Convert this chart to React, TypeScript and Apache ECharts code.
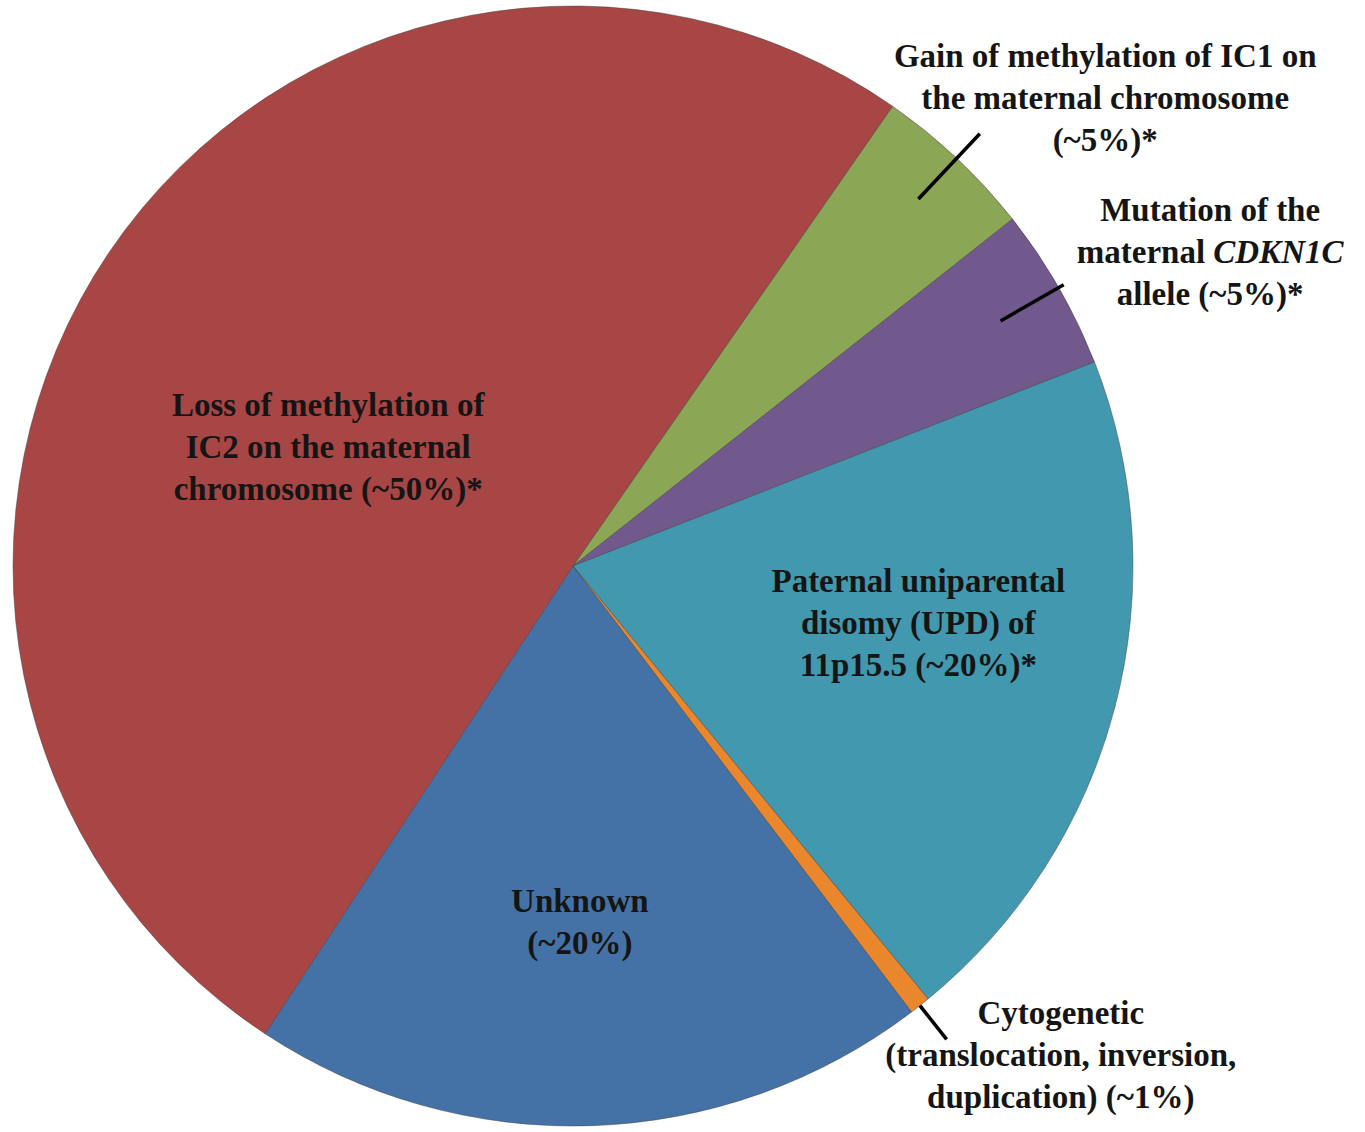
import React, { useEffect, useRef } from "react";
import * as echarts from "echarts";

// ---- data ----
const categories = [
  "Gain of methylation of IC1 on the maternal chromosome",
  "Mutation of the maternal CDKN1C allele",
  "Paternal uniparental disomy (UPD) of 11p15.5",
  "Cytogenetic (translocation, inversion, duplication)",
  "Unknown",
  "Loss of methylation of IC2 on the maternal chromosome",
];
const values = [4.7, 4.7, 20.0, 0.6, 19.6, 50.4];
const labelTexts = [
  "{b|Gain of methylation of IC1 on}\n{b|the maternal chromosome}\n{b|(~5%)*}",
  "{b|Mutation of the}\n{b|maternal }{i|CDKN1C}\n{b|allele (~5%)*}",
  "{b|Paternal uniparental}\n{b|disomy (UPD) of}\n{b|11p15.5 (~20%)*}",
  "{b|Cytogenetic}\n{b|(translocation, inversion,}\n{b|duplication) (~1%)}",
  "{b|Unknown}\n{b|(~20%)}",
  "{b|Loss of methylation of}\n{b|IC2 on the maternal}\n{b|chromosome (~50%)*}",
];

// ---- layout / style ----
const colors = ["#8BA654", "#71598E", "#4299AF", "#EA862B", "#4572A6", "#A84645"];
const CX = 573;
const CY = 566;
const R = 560;
const START = 34.8; // degrees clockwise from 12 o'clock
// label placement: [fraction of radius, angle clockwise from 12 o'clock]
const labelPlace: [number, number][] = [
  [1.265, 48.7],
  [1.268, 63.8],
  [0.625, 99.4],
  [1.234, 135.1],
  [0.636, 178.9],
  [0.486, 295.9],
];
// leader lines: [inner fraction, outer fraction] or null
const leaders: ([number, number] | null)[] = [
  [0.9, 1.06],
  [0.88, 1.01],
  null,
  [1.0, 1.077],
  null,
  null,
];

const FONT = "'Liberation Serif', 'Times New Roman', serif";

export default function App() {
  const ref = useRef<HTMLDivElement>(null);
  useEffect(() => {
    document.body.style.margin = "0";
    if (!ref.current) return;
    const chart = echarts.init(ref.current, undefined, { renderer: "svg" });

    const total = values.reduce((a, b) => a + b, 0);
    const lines: any[] = [];
    let acc = START;
    values.forEach((v, i) => {
      const span = (v / total) * 360;
      const mid = acc + span / 2;
      acc += span;
      const ld = leaders[i];
      if (ld) {
        const rad = (mid * Math.PI) / 180;
        lines.push({
          type: "line",
          z: 100,
          shape: {
            x1: CX + ld[0] * R * Math.sin(rad),
            y1: CY - ld[0] * R * Math.cos(rad),
            x2: CX + ld[1] * R * Math.sin(rad),
            y2: CY - ld[1] * R * Math.cos(rad),
          },
          style: { stroke: "#000", lineWidth: 3.5 },
        });
      }
    });

    const base = {
      fontFamily: FONT,
      fontWeight: "bold" as const,
      fontSize: 33,
      lineHeight: 42,
      color: "#151515",
    };

    chart.setOption({
      animation: false,
      backgroundColor: "#fff",
      graphic: lines,
      series: [
        {
          type: "pie",
          center: [CX, CY],
          radius: R,
          startAngle: 90 - START,
          clockwise: true,
          avoidLabelOverlap: false,
          itemStyle: { borderColor: "rgba(60,60,60,0.45)", borderWidth: 1 },
          label: {
            show: true,
            position: "inside",
            align: "center",
            ...base,
            rich: {
              b: { ...base },
              i: { ...base, fontStyle: "italic" },
            },
          },
          labelLine: { show: false },
          labelLayout: (params: any) => {
            const [f, a] = labelPlace[params.dataIndex];
            const rad = (a * Math.PI) / 180;
            return {
              x: CX + f * R * Math.sin(rad),
              y: CY - f * R * Math.cos(rad),
              align: "center",
              verticalAlign: "middle",
            };
          },
          data: categories.map((name, i) => ({
            name,
            value: values[i],
            itemStyle: { color: colors[i] },
            label: { formatter: labelTexts[i] },
          })),
        },
      ],
    });
    return () => chart.dispose();
  }, []);
  return <div ref={ref} style={{ width: 1365, height: 1132 }} />;
}
